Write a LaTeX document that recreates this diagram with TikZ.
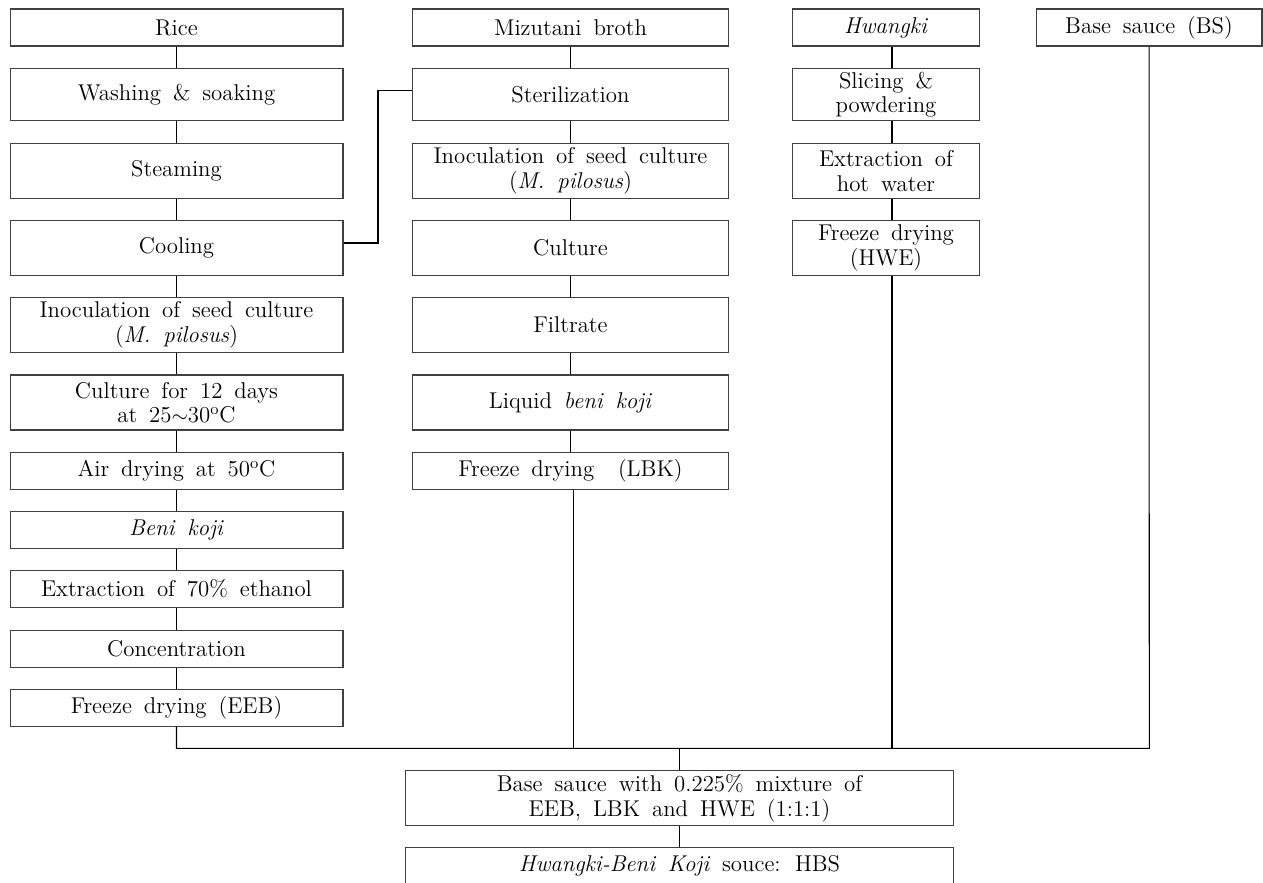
\documentclass[tikz,border=0pt]{standalone}
\usepackage{fontspec}
\setmainfont{Latin Modern Roman}[WordSpace=1.6]
\usepackage{tikz}

\begin{document}
\begin{tikzpicture}[x=0.02cm, y=-0.02cm, line width=0.6pt,
  stepbox/.style={draw=black!75, inner sep=1pt, align=center, font=\fontsize{13}{14}\selectfont},
  colA/.style={stepbox, minimum width=6.66cm},
  colB/.style={stepbox, minimum width=6.31cm},
  colC/.style={stepbox, minimum width=3.73cm},
  colD/.style={stepbox, minimum width=4.52cm},
  colE/.style={stepbox, minimum width=10.98cm},
  short/.style={minimum height=0.74cm},
  tall/.style={minimum height=1.1cm}]

  \useasboundingbox (0,0) rectangle (1263,882);
  \clip (0,0) rectangle (1263,882);

  \node[colA,short] (rice) at (176.5,27.5) {Rice};
  \node[colA,minimum height=1.04cm] (wash) at (176.5,94.5) {Washing \& soaking};
  \node[colA,tall] (steam) at (176.5,171) {Steaming};
  \node[colA,tall] (cool) at (176.5,248) {Cooling};
  \node[colA,tall] (inoc) at (176.5,324.8) {Inoculation of seed culture\\(\textit{M. pilosus})};
  \node[colA,tall] (cult) at (176.5,402.5) {Culture for 12 days\\at 25$\sim$30$^{\rm o}$C};
  \node[colA,short] (air) at (176.5,470.8) {Air drying at 50$^{\rm o}$C};
  \node[colA,short] (beni) at (176.5,529.9) {\textit{Beni koji}};
  \node[colA,short] (ext) at (176.5,588.7) {Extraction of 70\% ethanol};
  \node[colA,short] (conc) at (176.5,648.7) {Concentration};
  \node[colA,short] (eeb) at (176.5,707.7) {Freeze drying (EEB)};

  \node[colB,short] (mizu) at (570.5,27.5) {Mizutani broth};
  \node[colB,minimum height=1.04cm] (ster) at (570.5,94.5) {Sterilization};
  \node[colB,tall] (inocb) at (570.5,171) {Inoculation of seed culture\\(\textit{M. pilosus})};
  \node[colB,tall] (cultb) at (570.5,248) {Culture};
  \node[colB,tall] (filt) at (570.5,324.8) {Filtrate};
  \node[colB,tall] (liq) at (570.5,402.5) {Liquid \textit{beni koji}};
  \node[colB,short] (lbk) at (570.5,470.8) {Freeze drying~~(LBK)};

  \node[colC,short] (hwk) at (886,27.5) {\textit{Hwangki}};
  \node[colC,minimum height=1.04cm] (slice) at (886,94.5) {Slicing \&\\powdering};
  \node[colC,tall] (hot) at (886,171) {Extraction of\\hot water};
  \node[colC,tall] (hwe) at (886,248) {Freeze drying\\(HWE)};

  \node[colD,short] (bs) at (1149,27.5) {Base sauce (BS)};

  \node[colE,tall] (mix) at (679.5,798) {Base sauce with 0.225\% mixture of\\EEB, LBK and HWE (1:1:1)};
  \node[colE,short] (hbs) at (679.5,866) {\textit{Hwangki-Beni Koji} souce: HBS};

  \foreach \a/\b in {rice/wash,wash/steam,steam/cool,cool/inoc,inoc/cult,cult/air,air/beni,beni/ext,ext/conc,conc/eeb,mizu/ster,ster/inocb,inocb/cultb,cultb/filt,filt/liq,liq/lbk,mix/hbs}
    \draw (\a) -- (\b);
  \foreach \a/\b in {hwk/slice,slice/hot,hot/hwe}
    \draw ([xshift=0.12cm]\a.south) -- ([xshift=0.12cm]\b.north);

  \draw ([yshift=0.1cm]cool.east) -- ++(0.69cm,0) |- ([yshift=0.08cm]ster.west);

  \coordinate (busl) at (176.5,748.3);
  \coordinate (busr) at (1149.3,748.3);
  \draw (eeb) -- (busl) -- (busr) -- (bs);
  \draw ([xshift=0.06cm]lbk.south) -- ([xshift=0.06cm]lbk.south |- busl);
  \draw ([xshift=0.12cm]hwe.south) -- ([xshift=0.12cm]hwe.south |- busl);
  \draw (mix) -- (mix |- busl);

\end{tikzpicture}
\end{document}
